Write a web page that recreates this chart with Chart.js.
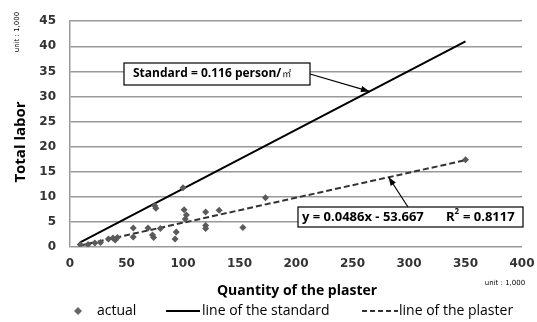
<!DOCTYPE html>
<html>
<head>
<meta charset="utf-8">
<script src="https://cdn.jsdelivr.net/npm/chart.js@4.4.0/dist/chart.umd.min.js"></script>
<style>
  html, body { margin: 0; padding: 0; background: #fff; }
  #wrap { width: 537px; height: 322px; position: relative; }
</style>
</head>
<body>
<div id="wrap"><canvas id="laborChart" width="537" height="322"></canvas></div>
<script>
// actual points (quantity of the plaster, total labor), unit: 1,000
const actualX = [9, 16, 22, 27, 34, 38, 40, 42, 56, 56, 69, 73, 74, 75, 76, 80, 93, 94, 100, 101, 102, 103, 120, 120, 120, 132, 153, 173, 350];
const actualY = [0.5, 0.5, 0.8, 0.9, 1.6, 1.8, 1.4, 1.9, 3.8, 2.0, 3.8, 2.4, 1.9, 8.2, 7.7, 3.7, 1.6, 3.0, 11.8, 7.4, 5.6, 6.4, 7.0, 4.3, 3.7, 7.3, 3.9, 9.8, 17.4];

// line of the standard (0.116 person/m2) and line of the plaster (trend)
const standardX = [9, 350];
const standardY = [0.9, 41.0];
const plasterX = [9, 350];
const plasterY = [0.3, 17.3];

const xTicks = [0, 50, 100, 150, 200, 250, 300, 350, 400];
const yTicks = [0, 5, 10, 15, 20, 25, 30, 35, 40, 45];

const toPoints = (xs, ys) => xs.map((x, i) => ({ x: x, y: ys[i] }));

const tickFont = { family: "'DejaVu Sans', sans-serif", size: 12, weight: 'bold' };

// arrow helper
function arrow(ctx, x1, y1, x2, y2) {
    ctx.beginPath();
    ctx.moveTo(x1, y1);
    ctx.lineTo(x2, y2);
    ctx.stroke();
    const a = Math.atan2(y2 - y1, x2 - x1);
    const len = 9;
    ctx.beginPath();
    ctx.moveTo(x2, y2);
    ctx.lineTo(x2 - len * Math.cos(a - 0.35), y2 - len * Math.sin(a - 0.35));
    ctx.lineTo(x2 - len * Math.cos(a + 0.35), y2 - len * Math.sin(a + 0.35));
    ctx.closePath();
    ctx.fill();
}

const decorations = {
    id: 'decorations',
    afterDraw(chart) {
        const ctx = chart.ctx;
        const xs = chart.scales.x, ys = chart.scales.y;
        ctx.save();

        // axis titles
        ctx.fillStyle = '#000';
        ctx.font = "bold 14px 'Open Sans', sans-serif";
        ctx.textAlign = 'center';
        ctx.textBaseline = 'middle';
        ctx.fillText('Quantity of the plaster', 297, 291);
        ctx.save();
        ctx.translate(21, 142);
        ctx.rotate(-Math.PI / 2);
        ctx.font = "bold 15px 'Open Sans', sans-serif";
        ctx.fillText('Total labor', 0, 0);
        ctx.restore();

        ctx.font = "7px 'DejaVu Sans', sans-serif";
        ctx.fillText('unit : 1,000', 505, 283);
        ctx.save();
        ctx.translate(17, 32);
        ctx.rotate(-Math.PI / 2);
        ctx.fillText('unit : 1,000', 0, 0);
        ctx.restore();

        // legend
        const ly = 311;
        ctx.font = "14px 'Open Sans', sans-serif";
        ctx.textAlign = 'left';
        ctx.fillStyle = '#666';
        ctx.beginPath();
        ctx.moveTo(78, ly - 4); ctx.lineTo(82, ly); ctx.lineTo(78, ly + 4); ctx.lineTo(74, ly);
        ctx.closePath(); ctx.fill();
        ctx.fillStyle = '#000';
        ctx.fillText('actual', 97, ly);
        ctx.strokeStyle = '#000';
        ctx.lineWidth = 2;
        ctx.beginPath(); ctx.moveTo(166, ly); ctx.lineTo(200, ly); ctx.stroke();
        ctx.fillText('line of the standard', 202, ly);
        ctx.strokeStyle = '#333';
        ctx.setLineDash([5, 3]);
        ctx.beginPath(); ctx.moveTo(362, ly); ctx.lineTo(398, ly); ctx.stroke();
        ctx.setLineDash([]);
        ctx.fillText('line of the plaster', 399, ly);

        // annotation 1: standard
        ctx.lineWidth = 1.2;
        ctx.strokeStyle = '#000';
        ctx.fillStyle = '#fff';
        ctx.fillRect(124, 63, 186, 22);
        ctx.strokeRect(124, 63, 186, 22);
        ctx.fillStyle = '#000';
        ctx.font = "bold 12px 'Open Sans', sans-serif";
        ctx.textAlign = 'left';
        ctx.fillText('Standard = 0.116 person/', 133, 74);
        const w1 = ctx.measureText('Standard = 0.116 person/').width;
        ctx.font = "9px 'Noto Sans CJK KR', sans-serif";
        ctx.fillText('㎡', 134 + w1, 74);
        const t1x = xs.getPixelForValue(265), t1y = ys.getPixelForValue(0.9 + (265 - 9) * (41.0 - 0.9) / 341);
        arrow(ctx, 310, 74, t1x, t1y);

        // annotation 2: trend equation
        ctx.fillStyle = '#fff';
        ctx.fillRect(298, 207, 225, 20);
        ctx.strokeRect(298, 207, 225, 20);
        ctx.fillStyle = '#000';
        ctx.font = "bold 13px 'Open Sans', sans-serif";
        ctx.fillText('y = 0.0486x - 53.667', 302, 217);
        ctx.fillText('R', 446, 217);
        const rw = ctx.measureText('R').width;
        ctx.font = "bold 8px 'Open Sans', sans-serif";
        ctx.fillText('2', 446 + rw, 212);
        ctx.font = "bold 13px 'Open Sans', sans-serif";
        ctx.fillText(' = 0.8117', 451 + rw, 217);
        const t2x = xs.getPixelForValue(282), t2y = ys.getPixelForValue(0.3 + (282 - 9) * (17.3 - 0.3) / 341);
        arrow(ctx, 408, 207, t2x, t2y);

        ctx.restore();
    }
};

new Chart(document.getElementById('laborChart'), {
    type: 'scatter',
    data: {
        datasets: [
            {
                label: 'line of the standard',
                data: toPoints(standardX, standardY),
                showLine: true,
                borderColor: '#000',
                borderWidth: 2,
                pointRadius: 0,
                order: 2,
            },
            {
                label: 'line of the plaster',
                data: toPoints(plasterX, plasterY),
                showLine: true,
                borderColor: '#333',
                borderWidth: 2,
                borderDash: [6, 3],
                pointRadius: 0,
                order: 1,
            },
            {
                label: 'actual',
                data: toPoints(actualX, actualY),
                pointStyle: 'rectRot',
                pointRadius: 3.5,
                backgroundColor: '#5a5a5a',
                borderColor: '#5a5a5a',
                borderWidth: 0,
                order: 0,
            },
        ],
    },
    options: {
        responsive: false,
        animation: false,
        devicePixelRatio: 1,
        layout: {
            padding: { top: 11, right: 15, bottom: 0, left: 0 }
        },
        plugins: {
            legend: { display: false },
            tooltip: { enabled: false }
        },
        scales: {
            x: {
                type: 'linear',
                min: 0,
                max: 400,
                afterBuildTicks: (scale) => { scale.ticks = xTicks.map(v => ({ value: v })); },
                afterFit: (scale) => {
                    scale.height = 75;
                    scale.paddingLeft = 0;
                    scale.paddingRight = 0;
                },
                ticks: { font: tickFont, color: '#333', padding: 10 },
                grid: { display: false, drawTicks: false },
                border: { display: false },
            },
            y: {
                min: 0,
                max: 45,
                afterBuildTicks: (scale) => { scale.ticks = yTicks.map(v => ({ value: v })); },
                afterFit: (scale) => { scale.width = 70; },
                ticks: { font: tickFont, color: '#333', padding: 14 },
                grid: { color: '#999', lineWidth: 1.5, drawTicks: false },
                border: { display: true, color: '#999', width: 1.5 },
            },
        },
    },
    plugins: [decorations],
});
</script>
</body>
</html>
